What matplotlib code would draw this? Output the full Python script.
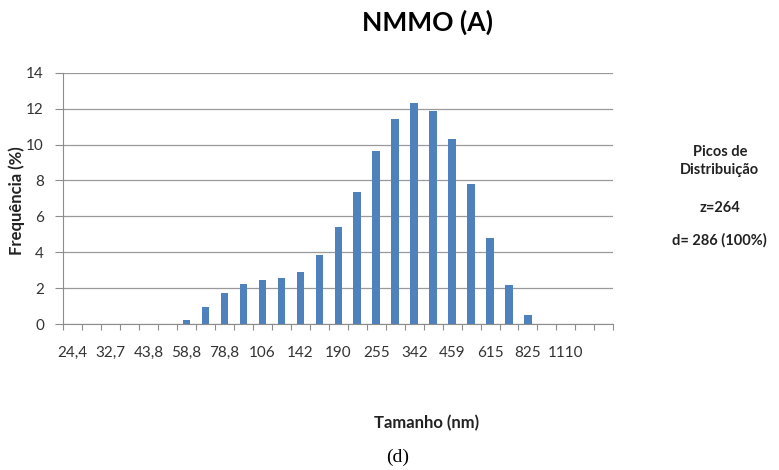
import matplotlib
matplotlib.use("Agg")
import matplotlib.pyplot as plt
import numpy as np

plt.rcParams['font.family'] = ['Lato', 'DejaVu Sans']

# classes de tamanho (nm) e frequência (%)
tamanhos = ["24,4", "28,2", "32,7", "37,8", "43,8", "50,7", "58,8", "68,1", "78,8", "91,3",
            "106", "122", "142", "164", "190", "220", "255", "295", "342", "396",
            "459", "531", "615", "712", "825", "955", "1110", "1280", "1480"]
frequencia = [0, 0, 0, 0, 0, 0, 0.22, 0.97, 1.71, 2.21,
              2.45, 2.54, 2.91, 3.84, 5.42, 7.37, 9.66, 11.44, 12.29, 11.88,
              10.29, 7.78, 4.77, 2.17, 0.5, 0, 0, 0, 0]
# rótulos que aparecem no eixo x
rotulos = ["24,4", "32,7", "43,8", "58,8", "78,8", "106", "142",
           "190", "255", "342", "459", "615", "825", "1110"]

fig = plt.figure(figsize=(7.79, 4.70), dpi=100)
ax = fig.add_axes([0.0813, 0.3106, 0.706, 0.5347])

x = np.arange(len(tamanhos))
ax.bar(x, frequencia, width=0.4, color="#4F81BD", zorder=3)

ax.set_xlim(-0.5, len(tamanhos) - 0.5)
ax.set_ylim(0, 14)
ax.set_yticks(np.arange(0, 15, 2))
ax.yaxis.grid(True, color="#9a9a9a", linewidth=0.9, zorder=0)

# marcas entre categorias, rótulos em categorias alternadas
ax.set_xticks(np.arange(-0.5, len(tamanhos), 1))
ax.set_xticklabels([])
ax.set_xticks([tamanhos.index(r) for r in rotulos], minor=True)
ax.set_xticklabels(rotulos, minor=True)
ax.tick_params(axis="x", which="major", length=4, color="#8c8c8c")
ax.tick_params(axis="x", which="minor", length=0, pad=16, labelsize=11, labelcolor="#333333")
ax.tick_params(axis="y", length=6, color="#8c8c8c", pad=8, labelsize=11, labelcolor="#333333")

for s in ["top", "right"]:
    ax.spines[s].set_visible(False)
ax.spines["left"].set_color("#8c8c8c")
ax.spines["bottom"].set_color("#8c8c8c")

fig.text(0.549, 0.953, "NMMO (A)", ha="center", va="center", fontsize=19, fontweight="bold")
fig.text(0.022, 0.574, "Frequência (%)", rotation=90, ha="center", va="center",
         fontsize=12, fontweight="bold", color="#222222")
fig.text(0.548, 0.100, "Tamanho (nm)", ha="center", va="center",
         fontsize=12, fontweight="bold", color="#222222")
fig.text(0.511, 0.026, "(d)", ha="center", va="center", fontsize=14,
         family=["Liberation Serif", "DejaVu Serif"])

picos = dict(ha="center", va="center", fontsize=10.5, fontweight="bold", color="#222222")
fig.text(0.924, 0.677, "Picos de", **picos)
fig.text(0.924, 0.638, "Distribuição", **picos)
fig.text(0.924, 0.557, "z=264", **picos)
fig.text(0.924, 0.489, "d= 286 (100%)", **picos)

fig.savefig("out.png", dpi=100)
